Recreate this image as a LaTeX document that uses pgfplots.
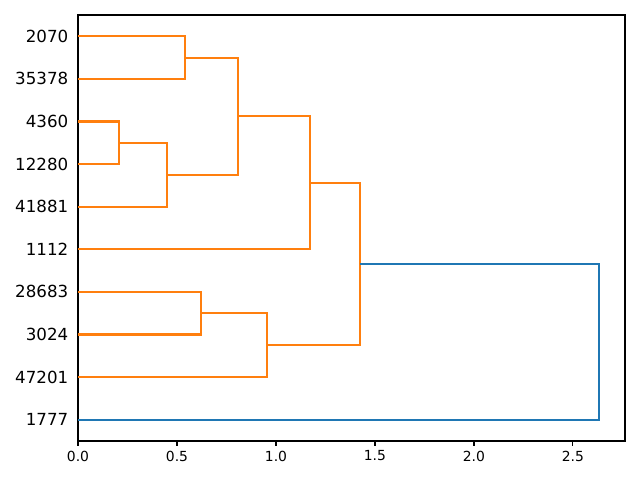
\documentclass[border=0pt]{standalone}
\usepackage{fontspec}
\setmainfont{DejaVu Sans}
\usepackage{pgfplots}
\pgfplotsset{compat=1.18}
\definecolor{mplorange}{HTML}{FF7F0E}
\definecolor{mplblue}{HTML}{1F77B4}
\begin{document}
\begin{tikzpicture}
\begin{axis}[name=ax,
  scale only axis, width=393.84pt, height=306.72pt,
  xmin=0, xmax=2.763, ymin=0, ymax=100,
  xtick={0,0.5,1,1.5,2,2.5},
  xticklabel style={font=\fontsize{10}{12}\selectfont, /pgf/number format/fixed, /pgf/number format/fixed zerofill, /pgf/number format/precision=1},
  /pgf/number format/assume math mode=true,
  ytick={5,15,25,35,45,55,65,75,85,95},
  yticklabels={1777,47201,3024,28683,1112,41881,12280,4360,35378,2070},
  yticklabel style={font=\fontsize{12}{14}\selectfont},
  tick align=outside, xtick pos=bottom, ytick pos=left,
  major tick length=3.5pt,
  ytick style={draw=none},
  axis line style={line width=0.8pt},
  every tick/.style={black, line width=0.8pt},
  every axis plot/.append style={line width=1.5pt, mark=none},
  clip=false,
]
\addplot[mplorange] coordinates {(0,95)(0.540,95)(0.540,85)(0,85)};
\addplot[mplorange] coordinates {(0,75)(0.207,75)(0.207,65)(0,65)};
\addplot[mplorange] coordinates {(0.207,70)(0.449,70)(0.449,55)(0,55)};
\addplot[mplorange] coordinates {(0.540,90)(0.808,90)(0.808,62.5)(0.449,62.5)};
\addplot[mplorange] coordinates {(0.808,76.25)(1.172,76.25)(1.172,45)(0,45)};
\addplot[mplorange] coordinates {(0,35)(0.621,35)(0.621,25)(0,25)};
\addplot[mplorange] coordinates {(0.621,30)(0.955,30)(0.955,15)(0,15)};
\addplot[mplorange] coordinates {(1.172,60.625)(1.424,60.625)(1.424,22.5)(0.955,22.5)};
\addplot[mplblue] coordinates {(1.424,41.5625)(2.631,41.5625)(2.631,5)(0,5)};
\end{axis}
\path (ax.south west) ++(-56.16pt,-28.08pt) coordinate (bl);
\path (ax.north east) ++(10.8pt,10.8pt) coordinate (tr);
\path[use as bounding box] (bl) rectangle (tr);
\end{tikzpicture}
\end{document}
